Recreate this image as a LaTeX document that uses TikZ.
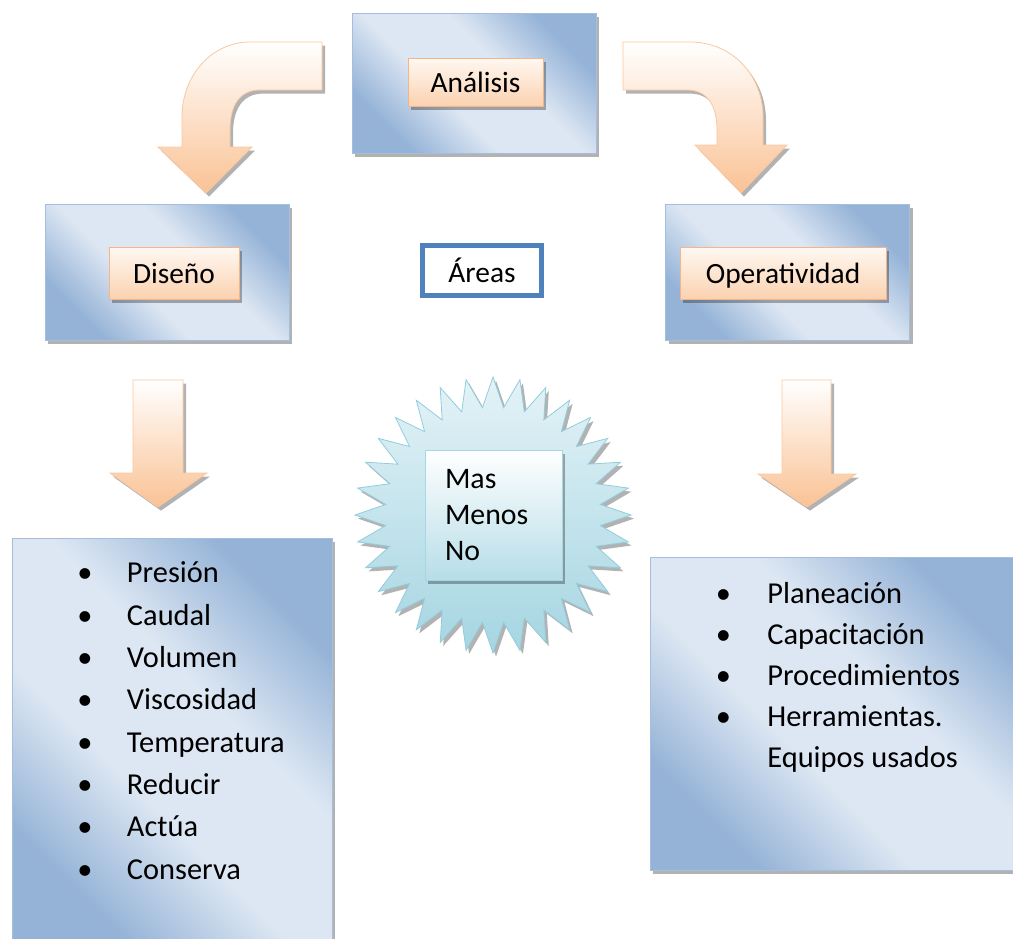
\documentclass[tikz,border=0pt]{standalone}
\usepackage{fontspec}
\setmainfont{Carlito}
\usetikzlibrary{
  matrix,
  positioning,
  shadows,
  shapes.geometric
}

\definecolor{boxdark}{RGB}{149,179,215}
\definecolor{boxlight}{RGB}{221,231,243}
\definecolor{orgtop}{RGB}{255,248,242}
\definecolor{orgbot}{RGB}{251,210,176}
\definecolor{orgline}{RGB}{247,180,135}
\definecolor{arrbot}{RGB}{250,194,148}
\definecolor{arrline}{RGB}{249,200,160}
\definecolor{cyantop}{RGB}{228,243,247}
\definecolor{cyanbot}{RGB}{165,213,226}
\definecolor{cyanline}{RGB}{146,205,221}
\definecolor{areablue}{RGB}{79,129,189}

\pgfdeclarehorizontalshading{boxshade}{100bp}{color(0bp)=(boxdark); color(26bp)=(boxdark); color(42bp)=(boxlight); color(58bp)=(boxlight); color(74bp)=(boxdark); color(100bp)=(boxdark)}

\begin{document}
\begin{tikzpicture}[
    x=0.5pt, y=-0.5pt,
    font=\fontsize{14.7}{17}\selectfont,
    softshadow/.style={drop shadow={shadow xshift=1.5pt, shadow yshift=-1.8pt, fill=black, opacity=0.3}},
    bigbox/.style={
      draw=boxdark!85,
      shade, shading=boxshade, shading angle=45,
      softshadow,
      inner sep=0pt,
      minimum width=122pt
      },
    tag/.style={
      draw=orgline, top color=orgtop, bottom color=orgbot,
      softshadow,
      inner sep=0pt, text height=11.5pt, text depth=1.5pt,
      minimum height=26pt
      },
    blockarrow/.style={draw=arrline, top color=white, bottom color=arrbot, softshadow},
    areabox/.style={draw=areablue, line width=2.5pt, fill=white, minimum width=59.5pt, minimum height=25pt, text height=12.5pt, text depth=0.5pt},
    burst/.style={
      star, star points=32, star point ratio=1.28,
      minimum size=138pt, inner sep=0pt,
      draw=cyanline, top color=cyantop, bottom color=cyanbot,
      softshadow
      },
    burstbox/.style={
      draw=cyanline!80, top color=white, bottom color=cyanbot!80,
      softshadow,
      text width=48.5pt, inner xsep=10pt, align=left,
      minimum height=65pt,
      font=\fontsize{14.9}{18}\selectfont
      },
    itemlist/.style={
      matrix of nodes,
      inner sep=0pt,
      font=\fontsize{15.2}{18}\selectfont,
      nodes={inner sep=0pt, anchor=west, text height=10pt, text depth=3pt, minimum height=#1},
      column 1/.style={minimum width=8pt}
      }
    ]

\useasboundingbox (0,0) rectangle (1013,938);

% blocks
\node [bigbox, minimum height=70pt] (ana) at (474,83) {};
\node [tag, minimum width=67.5pt, minimum height=24pt] (anaTag) at ([xshift=0.75pt, yshift=0.5pt]ana.center) {Análisis};

\node [bigbox, minimum height=68pt] (dis) at (167,272) {};
\node [tag, minimum width=65pt] (disTag) at ([xshift=3.5pt, yshift=-0.5pt]dis.center) {Diseño};

\node [bigbox, minimum height=68pt] (ope) at (787.5,272) {};
\node [tag, minimum width=103pt] (opeTag) at ([xshift=-2.25pt, yshift=-0.5pt]ope.center) {Operatividad};

\node [areabox] (areas) at (482,270.5) {Áreas};

% arrows
\path [blockarrow] (322,42) -- (250,42) .. controls (212,42) and (182,75) .. (182,117) -- (182,147)
  -- (158,147) -- (206,193) -- (252,147) -- (230,147) -- (230,130)
  .. controls (230,105) and (240,90) .. (260,90) -- (322,90) -- cycle;
\path [blockarrow] (623,42) -- (690,42) .. controls (732,42) and (763,75) .. (763,117) -- (763,145)
  -- (787,145) -- (741,193) -- (695,145) -- (717,145) -- (717,130)
  .. controls (717,105) and (707,90) .. (687,90) -- (623,90) -- cycle;
\path [blockarrow] (133,380) -- (183,380) -- (183,473) -- (207,473) -- (158,507) -- (110,473) -- (133,473) -- cycle;
\path [blockarrow] (782,380) -- (831,380) -- (831,474) -- (856,474) -- (807,507) -- (758,474) -- (782,474) -- cycle;

% burst
\node [burst] (burst) at (493,515) {};
\node [burstbox] (burstBox) at (493.5,515) {Mas\\Menos\\No};

% lists
\node [bigbox, minimum width=160pt, minimum height=203.5pt] (disList) at (172,741.5) {};
\matrix (disItems) [itemlist=21.15pt, column sep=17pt, below right=8.4pt and 32.5pt of disList.north west] {
  \textbullet & Presión \\
  \textbullet & Caudal \\
  \textbullet & Volumen \\
  \textbullet & Viscosidad \\
  \textbullet & Temperatura \\
  \textbullet & Reducir \\
  \textbullet & Actúa \\
  \textbullet & Conserva \\
};

\node [bigbox, minimum width=185pt, minimum height=156.5pt] (opeList) at (835,713.5) {};
\matrix (opeItems) [itemlist=20.6pt, column sep=18pt, below right=9.2pt and 32.5pt of opeList.north west] {
  \textbullet & Planeación \\
  \textbullet & Capacitación \\
  \textbullet & Procedimientos \\
  \textbullet & Herramientas. \\
  & Equipos usados \\
};
\end{tikzpicture}
\end{document}
